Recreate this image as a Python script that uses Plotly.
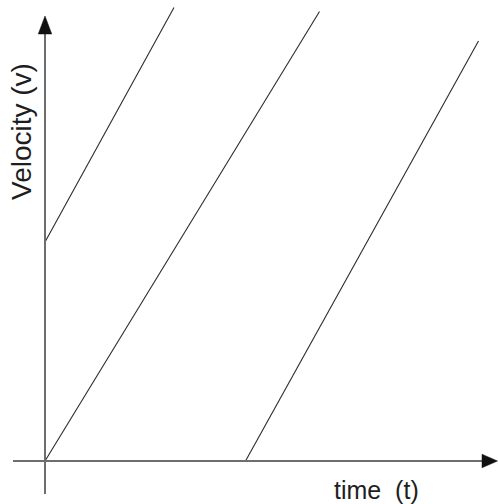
import plotly.graph_objects as go

# Data (units: 1 unit ~ one grid step of the sketch; origin at the axis crossing)
line_names = ["upper", "middle", "lower"]
line_t = [[0.0, 2.58], [0.0, 5.49], [4.01, 8.67]]
line_v = [[4.38, 9.07], [0.0, 8.99], [0.0, 8.40]]

x_axis_extent = [-0.64, 8.76]   # line start, arrow base
x_arrow_tip = 9.05
y_axis_extent = [-0.66, 8.56]
y_arrow_tip = 8.90

x_label = "time\u00a0 (t)"
y_label = "Velocity (v)"

x_range = [-0.9, 9.06]
y_range = [-0.86, 9.22]

fig = go.Figure()

for name, t, v in zip(line_names, line_t, line_v):
    fig.add_trace(go.Scatter(x=t, y=v, mode="lines", name=name,
                             line=dict(color="#2b2b2b", width=1.1),
                             showlegend=False, hoverinfo="skip"))

axis_color = "#6e6e6e"
# axis lines
fig.add_shape(type="line", xref="x", yref="y",
              x0=x_axis_extent[0], x1=x_axis_extent[1], y0=0, y1=0,
              line=dict(color=axis_color, width=2))
fig.add_shape(type="line", xref="x", yref="y",
              x0=0, x1=0, y0=y_axis_extent[0], y1=y_axis_extent[1],
              line=dict(color=axis_color, width=2))

# arrowheads
hw = 0.135
fig.add_shape(type="path", xref="x", yref="y",
              path=f"M {x_axis_extent[1]-0.02},{-hw} L {x_arrow_tip},0 L {x_axis_extent[1]-0.02},{hw} Z",
              fillcolor="#111111", line=dict(color="#111111", width=0.5))
fig.add_shape(type="path", xref="x", yref="y",
              path=f"M {-hw},{y_axis_extent[1]-0.02} L 0,{y_arrow_tip} L {hw},{y_axis_extent[1]-0.02} Z",
              fillcolor="#111111", line=dict(color="#111111", width=0.5))

font = "Liberation Sans, Arial, sans-serif"
fig.add_annotation(x=6.63, y=-0.57, xref="x", yref="y", text=x_label,
                   showarrow=False, xanchor="center", yanchor="middle",
                   font=dict(family=font, size=25, color="#1e1e1e"))
fig.add_annotation(x=-0.47, y=6.59, xref="x", yref="y", text=y_label,
                   showarrow=False, textangle=-90, xanchor="center", yanchor="middle",
                   font=dict(family=font, size=28, color="#1e1e1e"))

fig.update_layout(
    width=498, height=504,
    margin=dict(l=0, r=0, t=0, b=0),
    paper_bgcolor="white", plot_bgcolor="white",
    xaxis=dict(range=x_range, visible=False, fixedrange=True),
    yaxis=dict(range=y_range, visible=False, fixedrange=True),
    showlegend=False,
)

fig.write_html("out.html", config={"displayModeBar": False},
               post_script="document.body.style.margin='0';document.body.style.overflow='hidden';")
